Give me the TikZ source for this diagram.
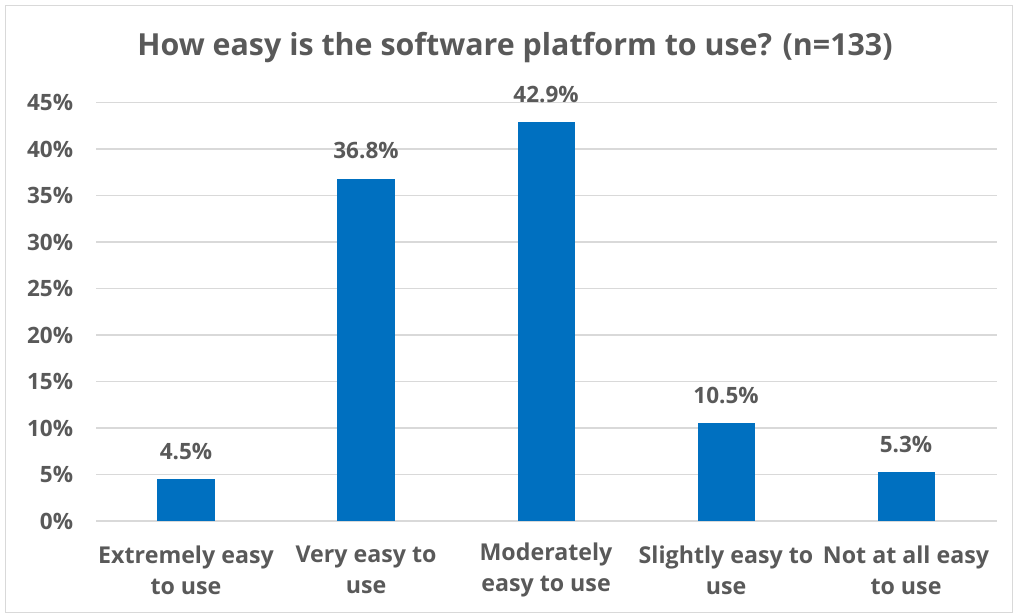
\documentclass[tikz,border=0pt]{standalone}
\usepackage{fontspec}
\setmainfont{Open Sans}
\usepackage{tikz}
\usetikzlibrary{positioning}

\definecolor{barblue}{HTML}{0070C0}
\definecolor{txtgray}{HTML}{595959}
\definecolor{gridgray}{HTML}{D9D9D9}

\begin{document}
\begin{tikzpicture}[x=0.025cm,y=0.025cm,
	every node/.style={text=txtgray,font=\bfseries},
	bar/.style={fill=barblue,minimum width=1.425cm,inner sep=0pt,outer sep=0pt,anchor=south},
	ticklab/.style={anchor=east,font=\bfseries\fontsize{16}{18}\selectfont},
	vallab/.style={font=\bfseries\fontsize{16}{18}\selectfont},
	catlab/.style={align=center,font=\bfseries\fontsize{16.5}{22}\selectfont}]
		\useasboundingbox (0,0) rectangle (1016,616);
		%frame
		\draw[gridgray] (5,4) rectangle (1012,611);

		%title
		\node[font=\bfseries\fontsize{21.6}{26}\selectfont] (title) at (515,568) {How easy is the software platform to use? (n=133)};

		%grid lines
		\draw[gridgray,line width=0.8pt] (96,95) -- (997,95);
		\draw[gridgray,line width=0.8pt] (96,141.5) -- (997,141.5);
		\draw[gridgray,line width=0.8pt] (96,188) -- (997,188);
		\draw[gridgray,line width=0.8pt] (96,234.5) -- (997,234.5);
		\draw[gridgray,line width=0.8pt] (96,281) -- (997,281);
		\draw[gridgray,line width=0.8pt] (96,327.5) -- (997,327.5);
		\draw[gridgray,line width=0.8pt] (96,374) -- (997,374);
		\draw[gridgray,line width=0.8pt] (96,420.5) -- (997,420.5);
		\draw[gridgray,line width=0.8pt] (96,467) -- (997,467);
		\draw[gridgray,line width=0.8pt] (96,513.5) -- (997,513.5);

		%axis labels
		\node[ticklab] (t0) at (78,95) {0\%};
		\node[ticklab] (t5) at (78,141.5) {5\%};
		\node[ticklab] (t10) at (78,188) {10\%};
		\node[ticklab] (t15) at (78,234.5) {15\%};
		\node[ticklab] (t20) at (78,281) {20\%};
		\node[ticklab] (t25) at (78,327.5) {25\%};
		\node[ticklab] (t30) at (78,374) {30\%};
		\node[ticklab] (t35) at (78,420.5) {35\%};
		\node[ticklab] (t40) at (78,467) {40\%};
		\node[ticklab] (t45) at (78,513.5) {45\%};

		%bars
		\node[bar,minimum height=1.046cm] (b1) at (186,95) {};
		\node[bar,minimum height=8.556cm] (b2) at (366,95) {};
		\node[bar,minimum height=9.974cm] (b3) at (546,95) {};
		\node[bar,minimum height=2.441cm] (b4) at (726,95) {};
		\node[bar,minimum height=1.232cm] (b5) at (906,95) {};

		%values
		\node[vallab,above=0.36cm of b1] (v1) {4.5\%};
		\node[vallab,above=0.36cm of b2] (v2) {36.8\%};
		\node[vallab,above=0.36cm of b3] (v3) {42.9\%};
		\node[vallab,above=0.36cm of b4] (v4) {10.5\%};
		\node[vallab,above=0.36cm of b5] (v5) {5.3\%};

		%categories
		\node[catlab] (c1) at (186,46) {Extremely easy\\to use};
		\node[catlab] (c2) at (366,46) {Very easy to\\use};
		\node[catlab] (c3) at (546,46) {Moderately\\easy to use};
		\node[catlab] (c4) at (726,46) {Slightly easy to\\use};
		\node[catlab] (c5) at (906,46) {Not at all easy\\to use};
	\end{tikzpicture}
\end{document}
